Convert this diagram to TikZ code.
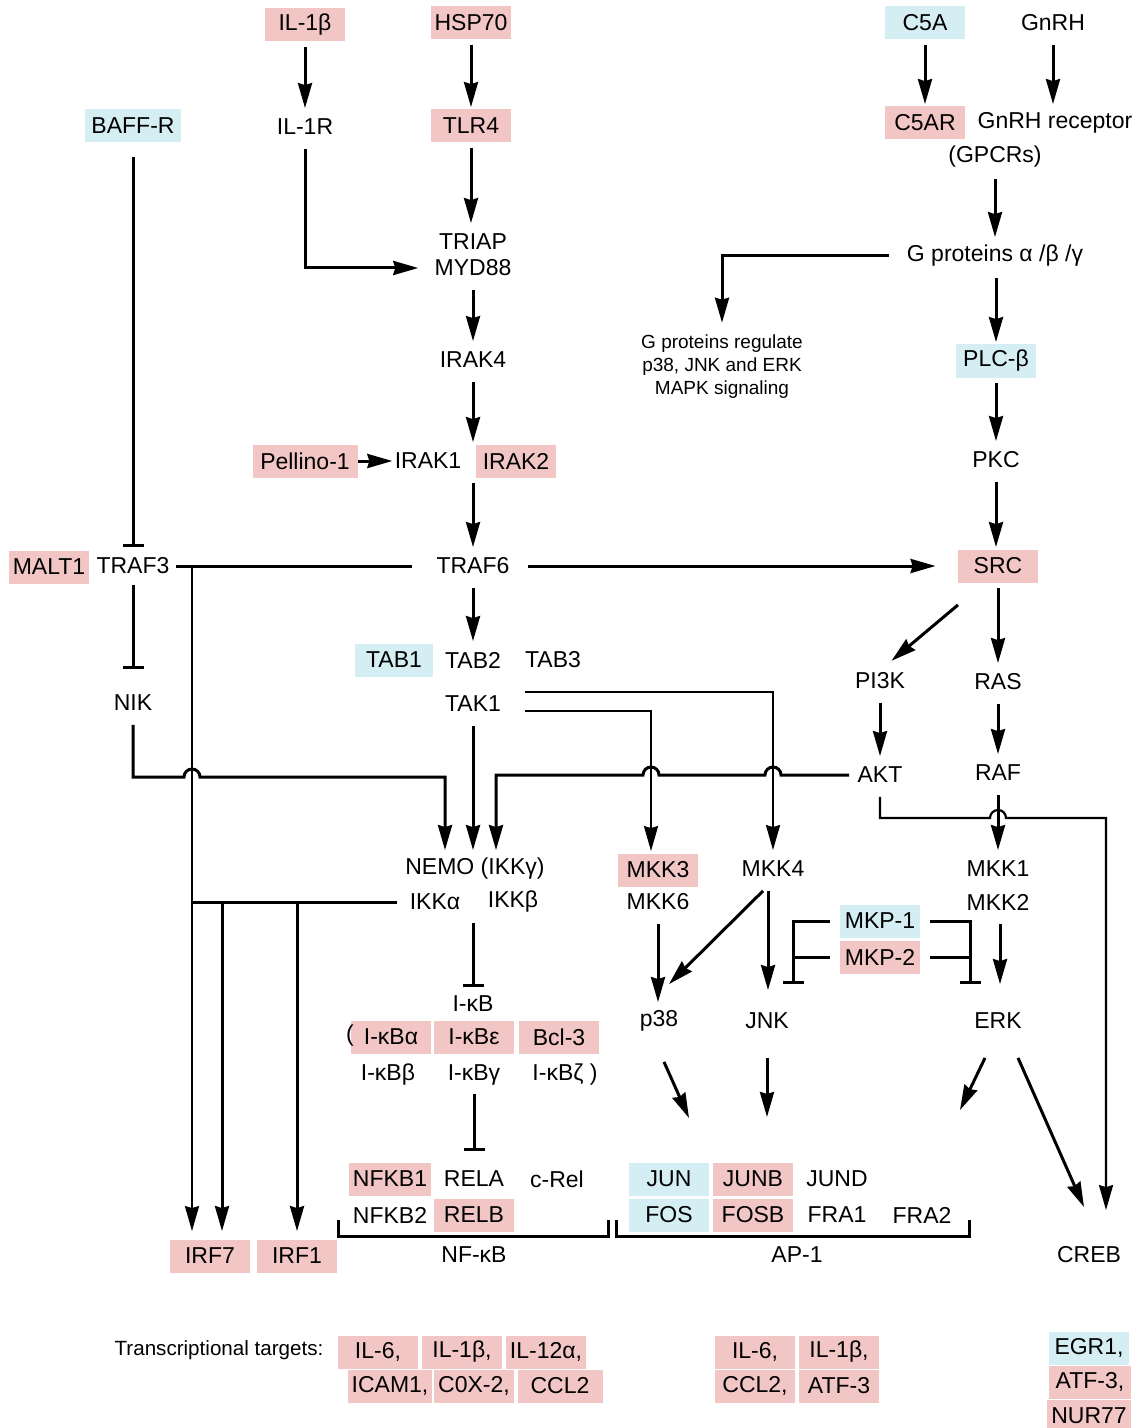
\documentclass[tikz,border=0pt]{standalone}
\usepackage{fontspec}
\setmainfont{Liberation Sans}
\usetikzlibrary{arrows.meta}
\definecolor{boxpink}{RGB}{243,198,198}
\definecolor{boxblue}{RGB}{212,238,244}

\begin{document}
\begin{tikzpicture}[x=0.5pt,y=-0.5pt]
\tikzstyle{lbl}=[font=\fontsize{11.5}{13}\selectfont,minimum height=16.5pt,inner xsep=2pt,inner ysep=0pt]
\tikzstyle{pinkbox}=[lbl,fill=boxpink,minimum width=40pt]
\tikzstyle{bluebox}=[lbl,fill=boxblue,minimum width=40pt]
\tikzstyle{small}=[font=\fontsize{9.5}{11.5}\selectfont,align=center,inner sep=1pt]
\tikzstyle{ln}=[line width=1.5pt]
\tikzstyle{thinline}=[line width=1.1pt]
\tikzstyle{arr}=[line width=1.5pt,-{Stealth[length=12.5pt,width=7pt,inset=1pt]},shorten <=2.5pt,shorten >=1pt]
\tikzstyle{inh}=[line width=1.5pt,-{Bar[width=10.5pt]}]

\clip (0,0) rectangle (1142,1428);

% receptors
\node (il1b) [pinkbox] at (305,25) {IL-1β};
\node (hsp70) [pinkbox] at (471,23) {HSP70};
\node (c5a) [bluebox] at (925,23) {C5A};
\node (gnrh) [lbl] at (1053,23) {GnRH};
\node (baffr) [bluebox,minimum width=48pt] at (133,126) {BAFF-R};
\node (il1r) [lbl] at (305,127) {IL-1R};
\node (tlr4) [pinkbox] at (471,126) {TLR4};
\node (c5ar) [pinkbox] at (925,123) {C5AR};
\node (gnrhr) [lbl] at (1055,123) {GnRH receptor};
\node (gpcr) [lbl] at (995,157) {(GPCRs)};

\node (triap) [lbl] at (473,242) {TRIAP};
\node (myd88) [lbl] at (473,268) {MYD88};
\node (gprot) [lbl] at (995,256) {G proteins α /β /γ};
\node (gtext) [small] at (722,367) {G proteins regulate\\p38, JNK and ERK\\MAPK signaling};
\node (irak4) [lbl] at (473,360) {IRAK4};
\node (plcb) [bluebox] at (996,361) {PLC-β};
\node (pellino) [pinkbox,minimum width=52.5pt] at (305,461) {Pellino-1};
\node (irak1) [lbl] at (428,461) {IRAK1};
\node (irak2) [pinkbox] at (516,461) {IRAK2};
\node (pkc) [lbl] at (996,460) {PKC};

\node (malt1) [pinkbox] at (49,567) {MALT1};
\node (traf3) [lbl] at (133,566) {TRAF3};
\node (traf6) [lbl] at (473,566) {TRAF6};
\node (src) [pinkbox] at (998,566) {SRC};
\node (tab1) [bluebox,minimum width=39pt] at (394,660) {TAB1};
\node (tab2) [lbl] at (473,660) {TAB2};
\node (tab3) [lbl] at (553,660) {TAB3};
\node (nik) [lbl] at (133,703) {NIK};
\node (tak1) [lbl] at (473,704) {TAK1};
\node (pi3k) [lbl] at (880,681) {PI3K};
\node (ras) [lbl] at (998,682) {RAS};
\node (akt) [lbl] at (880,775) {AKT};
\node (raf) [lbl] at (998,773) {RAF};

% kinases
\node (nemo) [lbl] at (475,869) {NEMO (IKKγ)};
\node (ikka) [lbl] at (435,902) {IKKα};
\node (ikkb) [lbl] at (513,902) {IKKβ};
\node (mkk3) [pinkbox] at (658,870) {MKK3};
\node (mkk6) [lbl] at (658,902) {MKK6};
\node (mkk4) [lbl] at (773,869) {MKK4};
\node (mkk1) [lbl] at (998,869) {MKK1};
\node (mkk2) [lbl] at (998,902) {MKK2};
\node (mkp1) [bluebox] at (880,921) {MKP-1};
\node (mkp2) [pinkbox] at (880,957) {MKP-2};
\node (p38) [lbl] at (659,1021) {p38};
\node (jnk) [lbl] at (767,1021) {JNK};
\node (erk) [lbl] at (998,1021) {ERK};

\node (ikb) [lbl] at (473,1004) {I-κB};
\node (ikba) [pinkbox] at (391,1037) {I-κBα};
\node (ikbe) [pinkbox] at (474,1037) {I-κBε};
\node (bcl3) [pinkbox] at (559,1037) {Bcl-3};
\node (paren) [lbl,inner xsep=0pt] at (350,1036) {(};
\node (ikbb) [lbl] at (388,1075) {I-κBβ};
\node (ikbg) [lbl] at (474,1075) {I-κBγ};
\node (ikbz) [lbl] at (565,1075) {I-κBζ )};

% transcription factors
\node (nfkb1) [pinkbox] at (390,1179) {NFKB1};
\node (rela) [lbl] at (474,1179) {RELA};
\node (crel) [lbl] at (557,1179) {c-Rel};
\node (nfkb2) [lbl] at (390,1215) {NFKB2};
\node (relb) [pinkbox] at (474,1215) {RELB};
\node (jun) [bluebox] at (669,1179) {JUN};
\node (junb) [pinkbox] at (753,1179) {JUNB};
\node (jund) [lbl] at (837,1179) {JUND};
\node (fos) [bluebox] at (669,1215) {FOS};
\node (fosb) [pinkbox] at (753,1215) {FOSB};
\node (fra1) [lbl] at (837,1215) {FRA1};
\node (fra2) [lbl] at (922,1215) {FRA2};
\node (nfkb) [lbl] at (474,1255) {NF-κB};
\node (ap1) [lbl] at (797,1255) {AP-1};
\node (creb) [lbl] at (1089,1255) {CREB};
\node (irf7) [pinkbox] at (210,1256) {IRF7};
\node (irf1) [pinkbox] at (297,1256) {IRF1};

% targets
\node (targets) [small,font=\fontsize{10.3}{12}\selectfont] at (219,1350) {Transcriptional targets:};
\node (il6a) [pinkbox] at (378,1352) {IL-6,};
\node (il1ba) [pinkbox] at (462,1352) {IL-1β,};
\node (il12a) [pinkbox] at (546,1352) {IL-12α,};
\node (icam1) [pinkbox] at (390,1386) {ICAM1,};
\node (cox2) [pinkbox] at (474,1386) {C0X-2,};
\node (ccl2a) [pinkbox,minimum width=42.5pt] at (560,1386) {CCL2};
\node (il6b) [pinkbox] at (755,1352) {IL-6,};
\node (il1bb) [pinkbox] at (839,1352) {IL-1β,};
\node (ccl2b) [pinkbox] at (755,1386) {CCL2,};
\node (atf3a) [pinkbox] at (839,1386) {ATF-3};
\node (egr1) [bluebox] at (1089,1348) {EGR1,};
\node (atf3b) [pinkbox,minimum width=41pt] at (1090,1382) {ATF-3,};
\node (nur77) [pinkbox] at (1089,1416) {NUR77};

\coordinate (ap1p38) at (689,1118);
\coordinate (ap1jnk) at (767,1117);
\coordinate (ap1erk) at (960,1110);

% upstream
\draw [arr] (il1b) -- (il1r);
\draw [arr] (hsp70) -- (tlr4);
\draw [arr] (tlr4.south) -- (tlr4.south |- triap.north);
\draw [arr,shorten >=6pt] (il1r.south) |- (myd88.west);
\draw [arr] (myd88) -- (irak4);
\draw [arr] (irak4.south) -- (irak4.south |- irak2.north);
\draw [arr,shorten <=0pt,shorten >=-1pt] (pellino) -- (irak1);
\draw [arr] (irak4.south |- irak2.south) -- (traf6);
\draw [arr] (c5a) -- (c5ar);
\draw [arr] (gnrh.south) -- (gnrh.south |- gnrhr.north);
\draw [arr] (gpcr) -- (gprot);
\draw [arr,shorten <=7pt,shorten >=5pt] (gprot.west) -| (gtext.north);
\draw [arr] (gprot.south -| plcb) -- (plcb);
\draw [arr] (plcb) -- (pkc);
\draw [arr] (pkc.south) -- (pkc.south |- src.north);

\draw [inh,shorten <=7pt,shorten >=1pt] (baffr) -- (traf3);
\draw [inh,shorten <=1pt,shorten >=8.5pt] (traf3) -- (nik);
\draw [ln,shorten <=1pt,shorten >=10pt] (traf3) -- (traf6);
\draw [arr,shorten <=7pt,shorten >=11pt] (traf6) -- (src);
\draw [arr] (traf6) -- (tab2);
\draw [arr] (tak1) -- (tak1 |- nemo.north);
\draw [arr] (nik.south) -- (133,777) -- (184,777) arc[start angle=180,end angle=0,radius=4pt] -- (445,777) -- (445,0 |- nemo.north);
\draw [arr,shorten <=2pt] (akt.west) -- (781,775) arc[start angle=0,end angle=180,radius=4pt] -- (659,775) arc[start angle=0,end angle=180,radius=4pt] -- (496,775) -- (496,0 |- nemo.north);
\draw [arr,thinline,shorten <=10pt] ([yshift=-3.5pt]tak1.east) -| (651,0 |- mkk3.north);
\draw [arr,thinline,shorten <=10pt] ([yshift=6pt]tak1.east) -| (773,0 |- mkk4.north);

\draw [arr,shorten <=0pt] ([shift={(-40,22)}]src.south) -- ([shift={(10,-2)}]pi3k.north);
\draw [arr] (src.south) -- (src.south |- ras.north);
\draw [arr] (pi3k) -- (akt);
\draw [arr] (ras) -- (raf);
\draw [arr] (raf) -- (mkk1);
\draw [arr,thinline,shorten >=14pt] (akt.south) -- (880,818) -- (990,818) arc[start angle=180,end angle=0,radius=4pt] -- (1106,818) -- (1106,0 |- creb.north);

% MAPK level
\draw [arr] (mkk6) -- (mkk6 |- p38.north);
\draw [arr,shorten <=0pt,shorten >=0pt] ([shift={(-10,5)}]mkk4.south) -- ([shift={(10,-20)}]p38.north);
\draw [arr,shorten >=7pt] ([xshift=-2.5pt]mkk4.south) -- ([xshift=-2.5pt]mkk4.south |- jnk.north);
\draw [arr,shorten >=10pt] ([xshift=1pt]mkk2.south) -- ([xshift=1pt]mkk2.south |- erk.north);
\draw [inh,shorten <=5pt] (mkp1.west) -- (793,0 |- mkp1.west) -- (793,984);
\draw [ln,shorten <=5pt] (mkp2.west) -- (793,0 |- mkp2.west);
\draw [inh,shorten <=5pt] (mkp1.east) -- (970,0 |- mkp1.east) -- (970,984);
\draw [ln,shorten <=5pt] (mkp2.east) -- (970,0 |- mkp2.east);

\draw [arr,shorten <=0pt,shorten >=0pt] ([shift={(5,24)}]p38.south) -- (ap1p38);
\draw [arr,shorten <=0pt,shorten >=0pt] ([shift={(0,20)}]jnk.south) -- (ap1jnk);
\draw [arr,shorten <=0pt,shorten >=0pt] ([shift={(-13,20)}]erk.south) -- (ap1erk);
\draw [arr,shorten <=0pt,shorten >=0pt] ([shift={(20,20)}]erk.south) -- ([shift={(-5,-31)}]creb.north);

% NF-kB branch
\draw [inh,shorten <=2pt] (ikb |- ikkb.south) -- (ikb);
\draw [inh,shorten <=1pt,shorten >=5.5pt] (ikbg) -- (rela);
\draw [ln,shorten <=4pt] (ikka.west) -- (192,0 |- ikka.west);
\draw [arr,thinline,shorten <=0pt,shorten >=4pt] (192,0 |- traf3.east) -- (192,0 |- irf7.north);
\draw [arr,shorten <=0pt,shorten >=4pt] (222,0 |- ikka.west) -- (222,0 |- irf7.north);
\draw [arr,shorten <=0pt,shorten >=4pt] (297,0 |- ikka.west) -- (irf1.north);

\draw [ln] (338,1220) -- (338,1236) -- (608,1236) -- (608,1220);
\draw [ln] (616,1220) -- (616,1236) -- (969,1236) -- (969,1220);

\end{tikzpicture}
\end{document}
